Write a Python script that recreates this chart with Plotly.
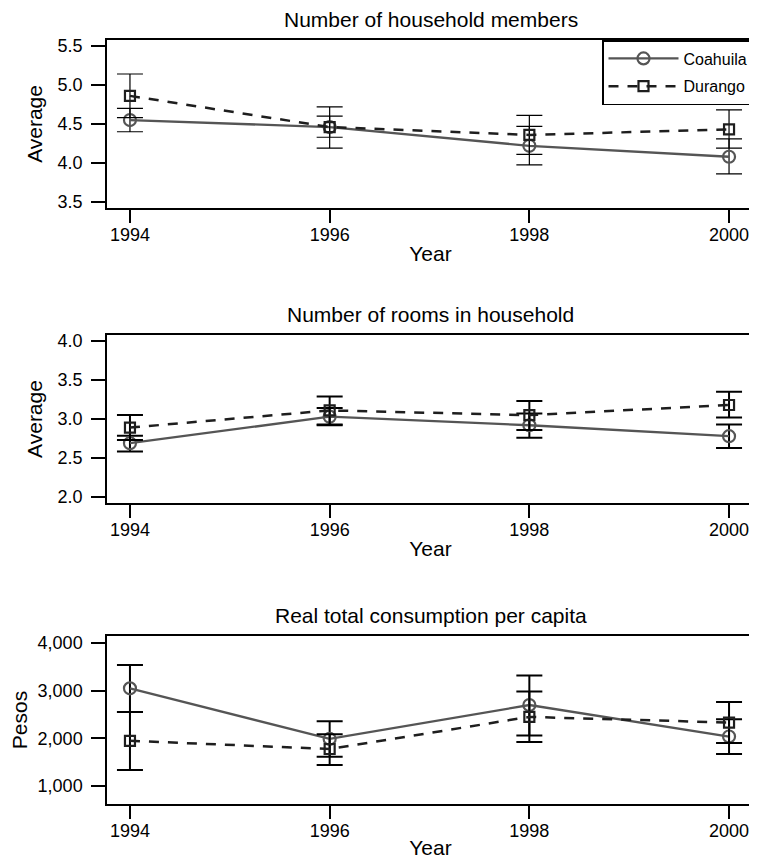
import plotly.graph_objects as go
from plotly.subplots import make_subplots

years = [1994, 1996, 1998, 2000]
series_names = ["Coahuila", "Durango"]
panel_titles = ["Number of household members", "Number of rooms in household",
                "Real total consumption per capita"]
y_titles = ["Average", "Average", "Pesos"]
x_title = "Year"

# Panel 1: household members (mean, lower CI, upper CI)
members_coahuila = [4.55, 4.46, 4.22, 4.08]
members_coahuila_lo = [4.40, 4.33, 3.975, 3.86]
members_coahuila_hi = [4.70, 4.60, 4.47, 4.31]
members_durango = [4.86, 4.46, 4.36, 4.43]
members_durango_lo = [4.58, 4.19, 4.11, 4.19]
members_durango_hi = [5.14, 4.72, 4.61, 4.68]

# Panel 2: rooms in household
rooms_coahuila = [2.69, 3.03, 2.92, 2.78]
rooms_coahuila_lo = [2.585, 2.92, 2.76, 2.63]
rooms_coahuila_hi = [2.785, 3.14, 3.07, 2.93]
rooms_durango = [2.89, 3.11, 3.05, 3.18]
rooms_durango_lo = [2.73, 2.93, 2.86, 3.02]
rooms_durango_hi = [3.05, 3.29, 3.23, 3.35]

# Panel 3: real total consumption per capita
cons_coahuila = [3050, 1990, 2700, 2040]
cons_coahuila_lo = [2556, 1618, 2063, 1674]
cons_coahuila_hi = [3540, 2361, 3319, 2403]
cons_durango = [1950, 1778, 2451, 2333]
cons_durango_lo = [1340, 1444, 1924, 1903]
cons_durango_hi = [2556, 2090, 2986, 2764]

y_ticks = [[3.5, 4.0, 4.5, 5.0, 5.5], [2.0, 2.5, 3.0, 3.5, 4.0], [1000, 2000, 3000, 4000]]
y_ranges = [[3.424, 5.576], [1.924, 4.076], [625, 4146]]
x_range = [1993.77, 2000.25]

panels = [
    ((members_coahuila, members_coahuila_lo, members_coahuila_hi),
     (members_durango, members_durango_lo, members_durango_hi)),
    ((rooms_coahuila, rooms_coahuila_lo, rooms_coahuila_hi),
     (rooms_durango, rooms_durango_lo, rooms_durango_hi)),
    ((cons_coahuila, cons_coahuila_lo, cons_coahuila_hi),
     (cons_durango, cons_durango_lo, cons_durango_hi)),
]

FONT = "Liberation Sans, Arial, Helvetica, sans-serif"
fig = make_subplots(rows=3, cols=1)

err_widths = [1.2, 2, 2]
for i, (coa, dur) in enumerate(panels):
    r = i + 1
    for j, (vals, lo, hi) in enumerate([coa, dur]):
        up = [h - v for h, v in zip(hi, vals)]
        dn = [v - l for v, l in zip(vals, lo)]
        if j == 0:
            line = dict(color="#555555", width=2.3)
            marker = dict(symbol="circle-open", size=12, color="#555555", line=dict(width=2.2))
        else:
            line = dict(color="#1e1e1e", width=2.5, dash="10px,9px")
            marker = dict(symbol="square-open", size=10, color="#1e1e1e", line=dict(width=2.2))
        fig.add_trace(go.Scatter(
            x=years, y=vals, mode="lines+markers", name=series_names[j],
            legendgroup=series_names[j],
            line=line, marker=marker, showlegend=(i == 0),
            error_y=dict(type="data", symmetric=False, array=up, arrayminus=dn,
                         color="#000000", thickness=err_widths[i], width=13),
        ), row=r, col=1)

domains = [[0.7802, 1.0], [0.394, 0.6138], [0.0, 0.2198]]
for i in range(3):
    r = i + 1
    fig.update_xaxes(range=x_range, tickvals=years, ticktext=[str(y) for y in years],
                     showline=True, mirror=True, linecolor="black", linewidth=1.5,
                     ticks="outside", ticklen=13, tickwidth=1.5, tickcolor="black",
                     ticklabelstandoff=-3,
                     showgrid=False, zeroline=False,
                     tickfont=dict(size=18, color="black", family=FONT),
                     title=dict(text=x_title, font=dict(size=21, color="black", family=FONT), standoff=2),
                     row=r, col=1)
    fig.update_yaxes(range=y_ranges[i], tickvals=y_ticks[i],
                     tickformat=(",d" if i == 2 else ".1f"),
                     domain=domains[i],
                     showline=True, mirror=True, linecolor="black", linewidth=1.5,
                     ticks="outside", ticklen=14, tickwidth=1.5, tickcolor="black",
                     ticklabelstandoff=5,
                     showgrid=False, zeroline=False,
                     tickfont=dict(size=18, color="black", family=FONT),
                     title=dict(text=y_titles[i], font=dict(size=21, color="black", family=FONT), standoff=9),
                     row=r, col=1)
    xref = "x domain" if i == 0 else f"x{r} domain"
    yref = "y domain" if i == 0 else f"y{r} domain"
    fig.add_annotation(text=panel_titles[i], xref=xref, yref=yref, x=0.5, y=1,
                       xanchor="center", yanchor="middle", yshift=21, showarrow=False,
                       font=dict(size=21, color="black", family=FONT))

fig.update_layout(
    width=749, height=851,
    margin=dict(l=99, r=1, t=32, b=50),
    paper_bgcolor="white", plot_bgcolor="white",
    font=dict(family=FONT, color="black"),
    legend=dict(x=1, y=1, xanchor="right", yanchor="top",
                bordercolor="black", borderwidth=1.5, bgcolor="white",
                font=dict(size=16, color="black", family=FONT),
                itemwidth=70, tracegroupgap=4),
    showlegend=True,
)

fig.write_html("out.html")
